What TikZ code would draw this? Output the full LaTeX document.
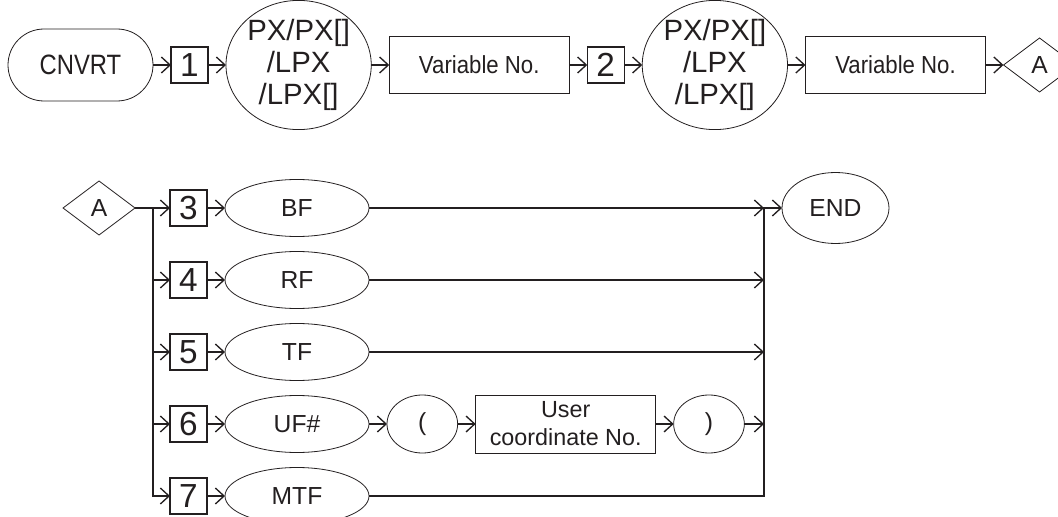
\documentclass[tikz,border=0pt]{standalone}
\usepackage{fontspec}
\setmainfont{Liberation Sans}
\usetikzlibrary{positioning, shapes.geometric, arrows.meta}
\definecolor{ink}{HTML}{231F20}

\begin{document}
\begin{tikzpicture}[
            x=0.75pt, y=-0.75pt,
            node distance=13.5pt,
            every node/.style={text=ink, outer sep=0pt},
            term/.style={draw=ink, line width=0.6pt, rounded corners=27pt, minimum width=108.75pt, minimum height=54pt, font=\fontsize{21}{24}\selectfont\addfontfeature{FakeStretch=0.85}},
            numbox/.style={draw=ink, line width=1.1pt, inner sep=0pt, minimum width=27.75pt, minimum height=27pt, font=\fontsize{25}{27}\selectfont},
            oval/.style={draw=ink, line width=0.6pt, ellipse, inner sep=0pt, minimum width=108pt, minimum height=42.75pt, font=\fontsize{18.5}{21}\selectfont},
            bigoval/.style={oval, align=center, minimum height=82.5pt, font=\fontsize{22}{24}\selectfont},
            paren/.style={oval, minimum width=53pt, minimum height=43.5pt},
            word/.style={draw=ink, line width=0.6pt, align=center, minimum width=135pt, minimum height=42.75pt, font=\fontsize{18.5}{21}\selectfont\addfontfeature{FakeStretch=0.9}},
            tag/.style={draw=ink, line width=0.6pt, diamond, inner sep=0pt, minimum width=54pt, minimum height=40.5pt, font=\fontsize{18.5}{21}\selectfont},
            arrow/.style={-{Straight Barb[length=6.5pt, width=12pt]}, draw=ink, line width=1pt},
            link/.style={draw=ink, line width=1pt}
        ]
            \useasboundingbox (0,0) rectangle (1058,517);

            % first line
            \node [term] (cnvrt) at (80.5,65) {CNVRT};
            \node [numbox, right=of cnvrt] (n1) {1};
            \node [bigoval, right=of n1, minimum width=106pt] (px1) {PX/PX[]\\/LPX\\/LPX[]};
            \node [word, right=of px1] (var1) {Variable No.};
            \node [numbox, right=of var1] (n2) {2};
            \node [bigoval, right=of n2] (px2) {PX/PX[]\\/LPX\\/LPX[]};
            \node [word, right=of px2] (var2) {Variable No.};
            \node [tag, right=of var2] (a1) {A};

            \foreach \u/\v in {cnvrt/n1, n1/px1, px1/var1, var1/n2, n2/px2, px2/var2, var2/a1}
                \draw [arrow] (\u) -- (\v);

            % second line
            \node [tag] (a2) at (99,208) {A};
            \coordinate [right=13.5pt of a2.east] (split);
            \node [numbox, right=26.25pt of a2] (n3) {3};
            \node [numbox, below=27pt of n3] (n4) {4};
            \node [numbox, below=27pt of n4] (n5) {5};
            \node [numbox, below=27pt of n5] (n6) {6};
            \node [numbox, below=27pt of n6] (n7) {7};
            \node [oval, right=of n3] (bf) {BF};
            \node [oval, right=of n4] (rf) {RF};
            \node [oval, right=of n5] (tf) {TF};
            \node [oval, right=of n6] (uf) {UF\#};
            \node [oval, right=of n7] (mtf) {MTF};
            \node [paren, right=of uf] (lp) {(};
            \node [word, right=of lp, minimum height=43.5pt, font=\fontsize{17.5}{21}\selectfont] (ucn) {User\\coordinate No.};
            \node [paren, right=of ucn] (rp) {)};
            \node [oval, minimum width=80.25pt, minimum height=53.25pt] (finish) at (835.5,208) {END};
            \coordinate [left=13.5pt of finish.west] (merge);

            \draw [link] (a2) -- (split);
            \draw [arrow] (split) -- (n3);
            \draw [arrow] (split) |- (n7);
            \foreach \n in {n4, n5, n6}
                \draw [arrow] (split |- \n) -- (\n);
            \foreach \u/\v in {n3/bf, n4/rf, n5/tf, n6/uf, n7/mtf, uf/lp, lp/ucn, ucn/rp}
                \draw [arrow] (\u) -- (\v);

            \draw [arrow] (bf) -- (merge);
            \foreach \n in {rf, tf, rp}
                \draw [arrow] (\n) -- (merge |- \n);
            \draw [arrow] (mtf) -| (merge) -- (finish);

        \end{tikzpicture}
\end{document}
